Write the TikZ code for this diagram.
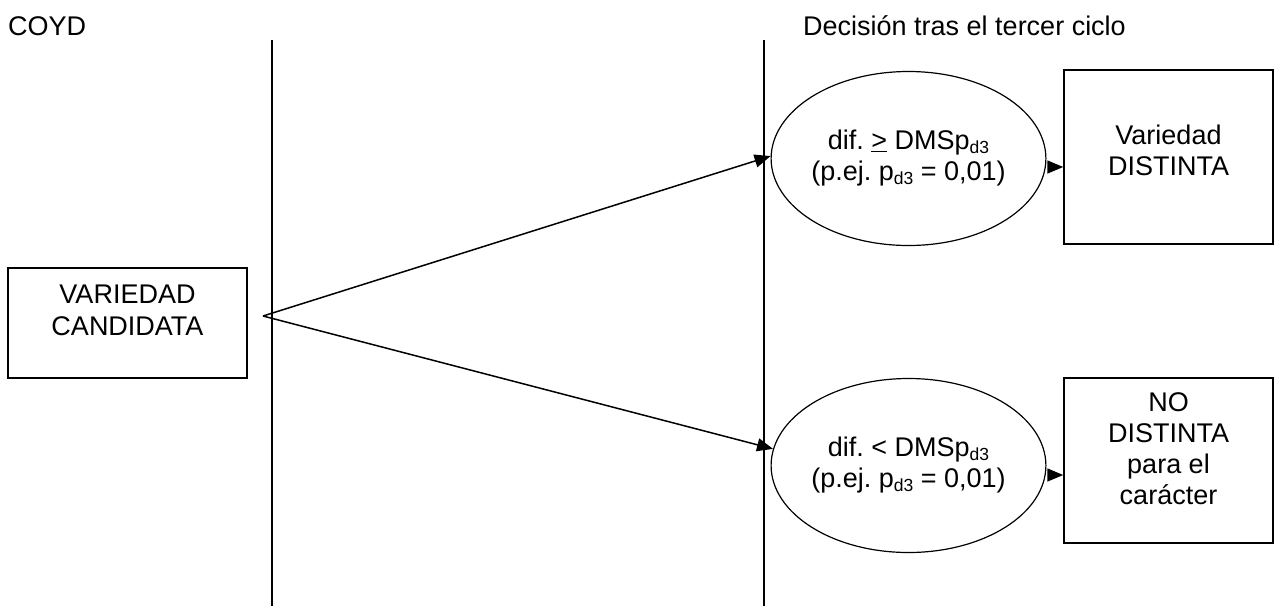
\documentclass[tikz,border=0pt]{standalone}
\usepackage{fontspec}
\setmainfont{Liberation Sans}
\usetikzlibrary{arrows.meta,shapes.geometric}
\frenchspacing
\newcommand\subd[1]{\raisebox{-0.12em}{\fontsize{17.5}{17.5}\selectfont #1}}
\tikzset{
  lbl/.style={font=\fontsize{27}{31}\selectfont, inner sep=0pt, align=center},
  boxnode/.style={draw, line width=1.5pt, inner sep=0pt},
  ell/.style={draw, ellipse, line width=1.2pt, inner sep=0pt, minimum width=267pt, minimum height=174pt,
              font=\fontsize{27}{31}\selectfont, align=center},
  vline/.style={line width=1.5pt},
  arr/.style={line width=1.5pt, -{Triangle[length=16pt,width=13pt]}},
}
\begin{document}
\begin{tikzpicture}[x=1pt,y=-1pt]
\useasboundingbox (0,0) rectangle (1277,606);
% headers
\node[lbl, anchor=base west] (coyd) at (8,35) {COYD};
\node[lbl, anchor=base west] (dec) at (803,35) {Decisión tras el tercer ciclo};
% vertical lines
\coordinate (v1t) at (272,40);
\coordinate (v1b) at (272,606);
\coordinate (v2t) at (764,40);
\coordinate (v2b) at (764,606);
\draw[vline] (v1t) -- (v1b);
\draw[vline] (v2t) -- (v2b);
% candidate box
\node[boxnode, minimum width=239pt, minimum height=110pt] (b0) at (127.5,323) {};
\node[lbl, anchor=north, font=\fontsize{27}{32}\selectfont] (t0) at ([yshift=-17pt]b0.north) {VARIEDAD\\CANDIDATA};
% ellipses
\node[ell] (e1) at (908.5,158.5) {dif. \underline{>} DMSp\subd{d3}\\(p.ej. p\subd{d3} = 0,01)};
\node[ell] (e2) at (908.5,465.5) {dif. < DMSp\subd{d3}\\(p.ej. p\subd{d3} = 0,01)};
% result boxes
\node[boxnode, minimum width=209pt, minimum height=174pt] (b1) at (1168.5,157) {};
\node[lbl, anchor=north] (t1) at ([yshift=-55.5pt]b1.north) {Variedad\\DISTINTA};
\node[boxnode, minimum width=209pt, minimum height=165pt] (b2) at (1168.5,460.5) {};
\node[lbl, anchor=north] (t2) at ([yshift=-15.5pt]b2.north) {NO\\DISTINTA\\para el\\carácter};
% connectors
\coordinate (apex) at (263,316);
\draw[arr] (apex) -- (e1.179);
\draw[arr] (apex) -- (e2.173);
\coordinate (s1) at ([xshift=4pt,yshift=-8.5pt]e1.east);
\coordinate (s2) at ([xshift=4pt,yshift=-9.5pt]e2.east);
\draw[arr] (s1) -- (s1 -| b1.west);
\draw[arr] (s2) -- (s2 -| b2.west);
\end{tikzpicture}
\end{document}
